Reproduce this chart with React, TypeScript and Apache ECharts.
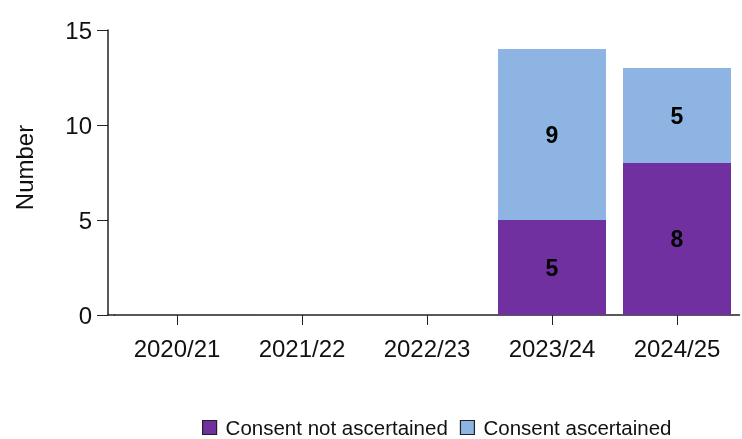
import React, { useEffect, useRef } from "react";
import * as echarts from "echarts";

const categories = ["2020/21", "2021/22", "2022/23", "2023/24", "2024/25"];
const consentNotAscertained = [0, 0, 0, 5, 8];
const consentAscertained = [0, 0, 0, 9, 5];
const seriesNames = ["Consent not ascertained", "Consent ascertained"];
const colors = ["#7030A0", "#8EB4E3"];

const FONT = "'Liberation Sans', Arial, sans-serif";

export default function App() {
  const ref = useRef<HTMLDivElement>(null);
  useEffect(() => {
    if (!ref.current) return;
    const chart = echarts.init(ref.current, undefined, { renderer: "svg" });
    const labelCfg = {
      show: true,
      position: "inside",
      color: "#000",
      fontWeight: "bold",
      fontSize: 23,
      fontFamily: FONT,
      formatter: (p: any) => (p.value ? String(p.value) : ""),
    };
    chart.setOption({
      animation: false,
      textStyle: { fontFamily: FONT },
      grid: { left: 114.5, right: 2.5, top: 30, bottom: 124, containLabel: false },
      legend: {
        left: 202,
        top: 417,
        padding: 0,
        itemWidth: 14,
        itemHeight: 14,
        itemGap: 12,
        icon: "rect",
        textStyle: {
          fontSize: 20.5,
          color: "#111",
          fontFamily: FONT,
          padding: [0, 0, 0, 4],
        },
        data: seriesNames.map((n, i) => ({
          name: n,
          itemStyle: { color: colors[i], borderColor: "#222", borderWidth: 1.2 },
        })),
      },
      xAxis: {
        type: "category",
        data: categories,
        axisLine: { lineStyle: { color: "#222", width: 1.5 } },
        axisTick: { show: true, alignWithLabel: true, length: 10, lineStyle: { color: "#222" } },
        axisLabel: { fontSize: 24, color: "#111", margin: 21, fontFamily: FONT },
      },
      yAxis: {
        type: "value",
        min: 0,
        max: 15,
        interval: 5,
        offset: 6.5,
        name: "Number",
        nameLocation: "middle",
        nameGap: 72,
        nameTextStyle: { fontSize: 24, color: "#111", fontFamily: FONT, padding: [0, 0, 0, 10] },
        splitLine: { show: false },
        axisLine: { show: true, lineStyle: { color: "#222", width: 1.5 } },
        axisTick: { show: true, length: 11, lineStyle: { color: "#222" } },
        axisLabel: { fontSize: 24, color: "#111", margin: 16, fontFamily: FONT },
      },
      series: [
        {
          name: seriesNames[0],
          type: "bar",
          stack: "total",
          barWidth: 108,
          data: consentNotAscertained,
          itemStyle: { color: colors[0] },
          label: labelCfg,
        },
        {
          name: seriesNames[1],
          type: "bar",
          stack: "total",
          barWidth: 108,
          data: consentAscertained,
          itemStyle: { color: colors[1] },
          label: labelCfg,
        },
      ],
      graphic: [
        {
          type: "line",
          shape: { x1: 107, y1: 315, x2: 115, y2: 315 },
          style: { stroke: "#222", lineWidth: 1.5 },
        },
      ],
    });
    return () => chart.dispose();
  }, []);
  return (
    <div
      ref={ref}
      style={{ position: "fixed", left: 0, top: 0, width: 742, height: 439 }}
    />
  );
}
